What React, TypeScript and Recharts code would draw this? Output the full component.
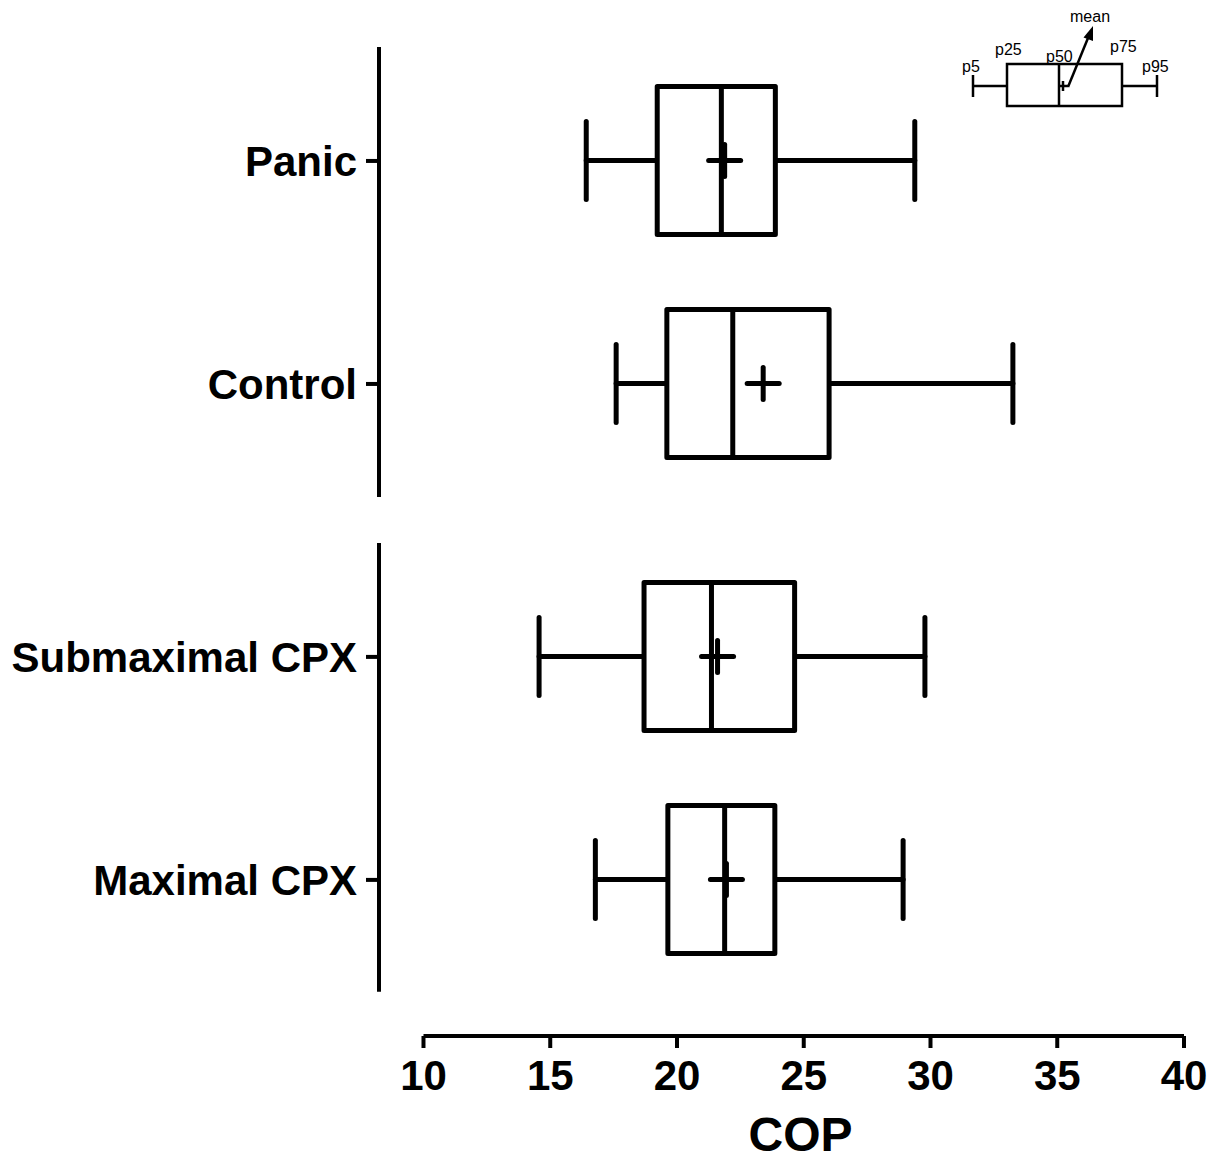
import { ComposedChart, Bar, XAxis, YAxis, ReferenceLine, Label, Legend } from 'recharts';

// groups and their row positions (gap between the two panels)
const groups = ['Panic', 'Control', 'Submaximal CPX', 'Maximal CPX'];
const rowPos = [0, 1, 2.224, 3.224];

// box plot statistics
const p5 = [16.42, 17.6, 14.56, 16.78];
const p25 = [19.22, 19.6, 18.7, 19.64];
const p50 = [21.75, 22.2, 21.36, 21.88];
const p75 = [23.88, 26.0, 24.64, 23.86];
const p95 = [29.38, 33.25, 29.78, 28.92];
const means = [21.88, 23.4, 21.6, 21.95];

const xTicks = [10, 15, 20, 25, 30, 35, 40];

const data = groups.map((name, i) => ({
  name,
  pos: rowPos[i],
  span: [p5[i], p95[i]],
  p5: p5[i],
  p25: p25[i],
  p50: p50[i],
  p75: p75[i],
  p95: p95[i],
  mean: means[i],
}));

const FONT = 'Arial, "Liberation Sans", Helvetica, sans-serif';
const LW = 5;

const BoxShape = (props: any) => {
  const { x, y, width, height, payload } = props;
  const lo = payload.p5;
  const hi = payload.p95;
  const k = width / (hi - lo);
  const px = (v: number) => x + (v - lo) * k;
  const cy = y + height / 2;
  const m = px(payload.mean);
  return (
    <g stroke="#000" strokeWidth={LW} strokeLinecap="round" strokeLinejoin="round" fill="none">
      <line x1={px(payload.p5)} x2={px(payload.p25)} y1={cy} y2={cy} />
      <line x1={px(payload.p75)} x2={px(payload.p95)} y1={cy} y2={cy} />
      <line x1={px(payload.p5)} x2={px(payload.p5)} y1={cy - 39} y2={cy + 39} />
      <line x1={px(payload.p95)} x2={px(payload.p95)} y1={cy - 39} y2={cy + 39} />
      <rect x={px(payload.p25)} y={y} width={px(payload.p75) - px(payload.p25)} height={height} fill="#fff" />
      <line x1={px(payload.p50)} x2={px(payload.p50)} y1={y} y2={y + height} />
      <line x1={m - 16} x2={m + 16} y1={cy} y2={cy} />
      <line x1={m} x2={m} y1={cy - 16} y2={cy + 16} />
    </g>
  );
};

const YTick = (props: any) => {
  const { x, y, payload } = props;
  const idx = rowPos.indexOf(payload.value);
  return (
    <text x={x} y={y} dy="0.36em" textAnchor="end" fontFamily={FONT} fontWeight="bold" fontSize={42} fill="#000">
      {groups[idx]}
    </text>
  );
};

const XTick = (props: any) => {
  const { x, y, payload } = props;
  return (
    <text x={x} y={y} dy={42} textAnchor="middle" fontFamily={FONT} fontWeight="bold" fontSize={42} fill="#000">
      {payload.value}
    </text>
  );
};

const KeyGraphic = () => (
  <svg width={240} height={120} style={{ display: 'block' }}>
    <g stroke="#000" strokeWidth={2.5} fill="none">
      <line x1={33} x2={67} y1={86} y2={86} />
      <line x1={182} x2={217} y1={86} y2={86} />
      <line x1={33} x2={33} y1={75} y2={97} />
      <line x1={217} x2={217} y1={75} y2={97} />
      <rect x={67} y={64} width={115} height={42} fill="#fff" />
      <line x1={119} x2={119} y1={64} y2={106} />
      <line x1={118} x2={128} y1={86} y2={86} />
      <line x1={123} x2={123} y1={81} y2={91} />
      <line x1={128} y1={87} x2={148} y2={38} strokeWidth={2.5} />
    </g>
    <path d="M153,26 L143.5,37.5 L153,41 z" fill="#000" />
    <g fontFamily={FONT} fontSize={16} fill="#000">
      <text x={130} y={22}>mean</text>
      <text x={22} y={72}>p5</text>
      <text x={55} y={55}>p25</text>
      <text x={106} y={62}>p50</text>
      <text x={170} y={52}>p75</text>
      <text x={202} y={72}>p95</text>
    </g>
  </svg>
);

export default function App() {
  const axisX = 8.245;
  return (
    <div style={{ position: 'absolute', left: 0, top: 0, width: 1213, height: 1157, background: '#fff' }}>
      <ComposedChart
        width={1213}
        height={1157}
        data={data}
        layout="vertical"
        margin={{ top: 47, right: 29, bottom: 0, left: 0 }}
      >
        <XAxis
          type="number"
          domain={[axisX, 40]}
          ticks={xTicks}
          interval={0}
          axisLine={false}
          tickLine={{ stroke: '#000', strokeWidth: 4 }}
          tickSize={12}
          tickMargin={0}
          height={121}
          tick={<XTick />}
        >
          <Label
            value="COP"
            position="insideBottom"
            offset={6}
            dx={19}
            style={{ fontFamily: FONT, fontWeight: 'bold', fontSize: 48, fill: '#000' }}
          />
        </XAxis>
        <YAxis
          type="number"
          dataKey="pos"
          domain={[-0.511, 3.924]}
          ticks={rowPos}
          interval={0}
          width={379}
          axisLine={false}
          tickLine={{ stroke: '#000', strokeWidth: 4 }}
          tickSize={13}
          tickMargin={9}
          tick={<YTick />}
        />
        <ReferenceLine
          segment={[{ x: axisX, y: -0.511 }, { x: axisX, y: 1.507 }]}
          stroke="#000"
          strokeWidth={4}
          ifOverflow="visible"
        />
        <ReferenceLine
          segment={[{ x: axisX, y: 1.713 }, { x: axisX, y: 3.726 }]}
          stroke="#000"
          strokeWidth={4}
          ifOverflow="visible"
        />
        <ReferenceLine
          segment={[{ x: 10, y: 3.924 }, { x: 40, y: 3.924 }]}
          stroke="#000"
          strokeWidth={4}
          ifOverflow="visible"
        />
        <Bar dataKey="span" barSize={148} shape={<BoxShape />} isAnimationActive={false} />
        <Legend
          layout="horizontal"
          verticalAlign="middle"
          align="center"
          content={() => <KeyGraphic />}
          wrapperStyle={{ left: 940, top: 0, width: 240, height: 120 }}
        />
      </ComposedChart>
    </div>
  );
}
